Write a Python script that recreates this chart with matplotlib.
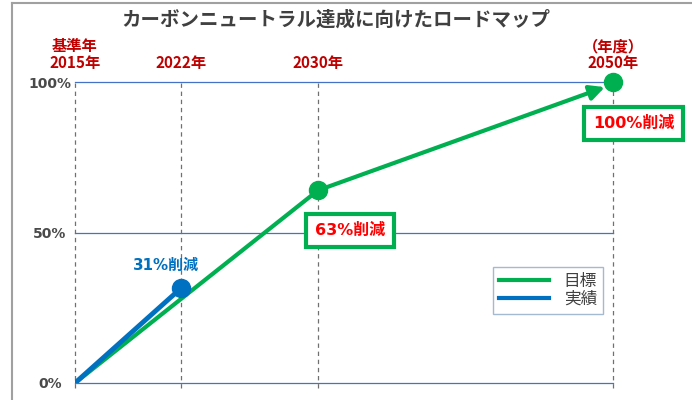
import numpy as np
import matplotlib.pyplot as plt
from matplotlib.lines import Line2D

plt.rcParams['font.family'] = ['DejaVu Sans', 'Noto Sans CJK JP']
CJK_FIRST = ['Noto Sans CJK JP', 'DejaVu Sans']

# data
years_tick = [2015, 2022, 2030, 2050]
tick_labels = ['基準年\n2015年', '2022年', '2030年', '（年度）\n2050年']
target_years = [2015, 2030, 2049.45]
target_vals = [0, 64, 98.3]
target_end = (2050, 100)
actual_years = [2015, 2022]
actual_vals = [0, 31.5]
pct_ticks = [0, 50, 100]
pct_labels = ['0%', '50%', '100%']

GREEN = '#00B050'
BLUE = '#0070C0'
RED = '#FF0000'
DARKRED = '#C00000'
GRAY = '#404040'

# the picture's year axis is not evenly spaced, so map years piecewise
scale_pos = [0, 106, 243, 538]


def fwd(x):
    return np.interp(x, years_tick, scale_pos)


def inv(x):
    return np.interp(x, scale_pos, years_tick)


fig = plt.figure(figsize=(6.92, 4.0), dpi=100)
ax = fig.add_axes([75 / 692, 17 / 400, 538 / 692, 301 / 400])
ax.set_xscale('function', functions=(fwd, inv))
ax.set_xlim(2015, 2050)
ax.set_ylim(0, 100)

for s in ax.spines.values():
    s.set_visible(False)

# grid
for v in pct_ticks:
    ax.axhline(v, color='#4472C4', lw=0.9, zorder=1, clip_on=False)
for yr in years_tick:
    ax.axvline(yr, color='#707070', lw=0.9, ls=(0, (3.5, 3)), zorder=1,
               ymin=-0.015, clip_on=False)

# target line with arrow
ax.plot(target_years[:2], target_vals[:2], color=GREEN, lw=3, zorder=3,
        solid_capstyle='butt')
ax.annotate('', xy=(target_years[2], target_vals[2]),
            xytext=(target_years[1], target_vals[1]),
            arrowprops=dict(arrowstyle='-|>', color=GREEN, lw=3,
                            mutation_scale=22, shrinkA=0, shrinkB=0),
            zorder=3)
ax.plot([target_years[1]], [target_vals[1]], 'o', color=GREEN, ms=13, zorder=4)
ax.plot([target_end[0]], [target_end[1]], 'o', color=GREEN, ms=13, zorder=4,
        clip_on=False)

# actual line
ax.plot(actual_years, actual_vals, color=BLUE, lw=3.5, zorder=4,
        solid_capstyle='round')
ax.plot([actual_years[1]], [actual_vals[1]], 'o', color=BLUE, ms=13, zorder=5)

# annotations
ax.annotate('31%削減', xy=(actual_years[1], actual_vals[1]), xytext=(-11, 16.5),
            textcoords='offset points', ha='center', va='center',
            fontsize=10.8, fontweight='bold', color=BLUE)
box = dict(boxstyle='square,pad=0.55', fc='white', ec=GREEN, lw=3)
ax.annotate('63%削減', xy=(target_years[1], target_vals[1]), xytext=(23, -29),
            textcoords='offset points', ha='center', va='center',
            fontsize=11.5, fontweight='bold', color=RED, bbox=box, zorder=6)
ax.annotate('100%削減', xy=target_end, xytext=(15, -30),
            textcoords='offset points', ha='center', va='center',
            fontsize=11.5, fontweight='bold', color=RED, bbox=box, zorder=6,
            annotation_clip=False)

# ticks
ax.set_yticks(pct_ticks)
ax.set_yticklabels(pct_labels, fontsize=10, fontweight='bold', color='#4a4a4a',
                   ha='center')
ax.xaxis.tick_top()
ax.set_xticks(years_tick)
ax.set_xticklabels(tick_labels, fontsize=11, fontweight='bold', color=DARKRED,
                   family=CJK_FIRST, linespacing=1.05)
ax.tick_params(axis='x', length=0, pad=8)
ax.tick_params(axis='y', length=0, pad=18)

# legend
handles = [Line2D([], [], color=GREEN, lw=3), Line2D([], [], color=BLUE, lw=3)]
leg = ax.legend(handles, ['目標', '実績'], loc='upper left',
                bbox_to_anchor=(0.777, 0.385), borderaxespad=0,
                prop=dict(family=CJK_FIRST, size=12), handlelength=3.0,
                fancybox=False, labelspacing=0.05, handletextpad=0.9,
                borderpad=0.35)
leg.get_frame().set_edgecolor('#8EA9C8')
leg.get_frame().set_linewidth(1)
for t in leg.get_texts():
    t.set_color(GRAY)

fig.suptitle('カーボンニュートラル達成に向けたロードマップ', x=0.485, y=0.975,
             fontsize=14, fontweight='bold', color=GRAY)

# outer frame
fig.add_artist(Line2D([12 / 692, 12 / 692], [0, 1 - 3 / 400], color='#A0A0A0', lw=1.5))
fig.add_artist(Line2D([12 / 692, 1], [1 - 3 / 400, 1 - 3 / 400], color='#A0A0A0', lw=1.5))

fig.savefig('out.png', dpi=100)
